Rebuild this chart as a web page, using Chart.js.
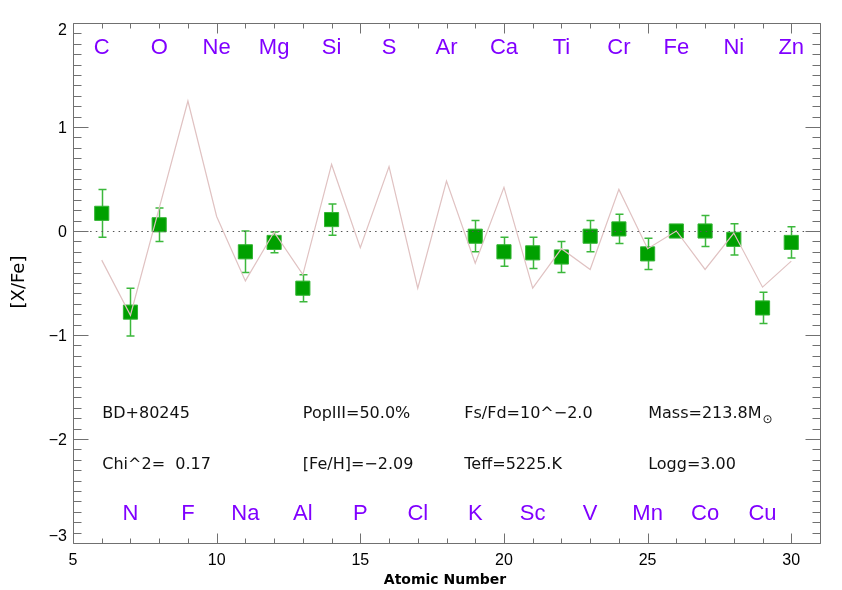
<!DOCTYPE html>
<html>
<head>
<meta charset="utf-8">
<script src="https://cdn.jsdelivr.net/npm/chart.js@4.4.0/dist/chart.umd.min.js"></script>
<style>
  html, body { margin: 0; padding: 0; background: #fff; }
  #wrap { width: 842px; height: 590px; }
</style>
</head>
<body>
<div id="wrap"><canvas id="abundChart" width="842" height="590"></canvas></div>
<script>
// [X/Fe] abundance pattern vs atomic number: observed points and model yield line.
const modelZ = [6, 7, 8, 9, 10, 11, 12, 13, 14, 15, 16, 17, 18, 19, 20, 21, 22, 23, 24, 25, 26, 27, 28, 29, 30];
const modelXFe = [-0.28, -0.81, 0.22, 1.25, 0.14, -0.48, -0.01, -0.42, 0.64, -0.16, 0.62, -0.55, 0.48, -0.31, 0.42, -0.55, -0.17, -0.37, 0.40, -0.17, 0.00, -0.37, -0.02, -0.54, -0.29];

const obsZ = [6, 7, 8, 11, 12, 13, 14, 19, 20, 21, 22, 23, 24, 25, 26, 27, 28, 29, 30];
const obsXFe = [0.17, -0.78, 0.06, -0.20, -0.11, -0.55, 0.11, -0.05, -0.20, -0.21, -0.25, -0.05, 0.02, -0.22, 0.00, 0.00, -0.08, -0.74, -0.11];
const obsErr = [0.23, 0.23, 0.16, 0.20, 0.10, 0.13, 0.15, 0.15, 0.14, 0.15, 0.15, 0.15, 0.14, 0.15, 0.00, 0.15, 0.15, 0.15, 0.15];

const topElements = ['C', 'O', 'Ne', 'Mg', 'Si', 'S', 'Ar', 'Ca', 'Ti', 'Cr', 'Fe', 'Ni', 'Zn'];
const topElementZ = [6, 8, 10, 12, 14, 16, 18, 20, 22, 24, 26, 28, 30];
const bottomElements = ['N', 'F', 'Na', 'Al', 'P', 'Cl', 'K', 'Sc', 'V', 'Mn', 'Co', 'Cu'];
const bottomElementZ = [7, 9, 11, 13, 15, 17, 19, 21, 23, 25, 27, 29];

const xTickValues = [5, 10, 15, 20, 25, 30];
const yTickValues = [2, 1, 0, -1, -2, -3];

const infoRow1 = ['BD+80245', 'PopIII=50.0%', 'Fs/Fd=10^\u22122.0', 'Mass=213.8M'];
const infoRow2 = ['Chi^2=  0.17', '[Fe/H]=\u22122.09', 'Teff=5225.K', 'Logg=3.00'];

// text anchor positions in data units
const infoColumnZ = [6.02, 13.0, 18.62, 25.02];
const infoRowY = [-1.755, -2.245];
const topLabelY = 1.765;
const bottomLabelY = -2.72;

const AXIS_COLOR = '#707070';
const LABEL_COLOR = '#8000ff';

function fmtTick(v) {
    return v < 0 ? '\u2212' + Math.abs(v) : String(v);
}

const errorBarPlugin = {
    id: 'errorBars',
    beforeDatasetsDraw(chart) {
        const { ctx, scales: { x, y } } = chart;
        ctx.save();
        ctx.strokeStyle = '#3cb83c';
        ctx.lineWidth = 1.5;
        obsZ.forEach((z, i) => {
            const err = obsErr[i];
            if (!err) {
                return;
            }
            const px = Math.round(x.getPixelForValue(z)) + 0.5;
            const top = y.getPixelForValue(obsXFe[i] + err);
            const bottom = y.getPixelForValue(obsXFe[i] - err);
            ctx.beginPath();
            ctx.moveTo(px, top);
            ctx.lineTo(px, bottom);
            ctx.moveTo(px - 4, top);
            ctx.lineTo(px + 4, top);
            ctx.moveTo(px - 4, bottom);
            ctx.lineTo(px + 4, bottom);
            ctx.stroke();
        });
        ctx.restore();
    },
};

const framePlugin = {
    id: 'idlFrame',
    afterDatasetsDraw(chart) {
        const { ctx, chartArea: area, scales: { x, y } } = chart;
        ctx.save();

        // dotted zero line
        const y0 = Math.round(y.getPixelForValue(0)) + 0.5;
        ctx.strokeStyle = '#555';
        ctx.lineWidth = 1;
        ctx.setLineDash([1.5, 4.2]);
        ctx.beginPath();
        ctx.moveTo(area.left, y0);
        ctx.lineTo(area.right, y0);
        ctx.stroke();
        ctx.setLineDash([]);

        // box
        const L = Math.round(area.left) + 0.5;
        const R = Math.round(area.right) + 0.5;
        const T = Math.round(area.top) + 0.5;
        const B = Math.round(area.bottom) + 0.5;
        ctx.strokeStyle = AXIS_COLOR;
        ctx.beginPath();
        ctx.rect(L, T, R - L, B - T);
        ctx.stroke();

        // inward ticks, x: minor every 1, major every 5
        ctx.beginPath();
        for (let v = 5; v <= 31; v++) {
            const px = Math.round(x.getPixelForValue(v)) + 0.5;
            const len = v % 5 === 0 ? 10 : 5;
            ctx.moveTo(px, B);
            ctx.lineTo(px, B - len);
            ctx.moveTo(px, T);
            ctx.lineTo(px, T + len);
        }
        // y: minor every 0.1, major every 1
        for (let k = -30; k <= 20; k++) {
            const py = Math.round(y.getPixelForValue(k / 10)) + 0.5;
            const len = k % 10 === 0 ? 15 : 8;
            ctx.moveTo(L, py);
            ctx.lineTo(L + len, py);
            ctx.moveTo(R, py);
            ctx.lineTo(R - len, py);
        }
        ctx.stroke();

        // tick labels
        ctx.fillStyle = '#000';
        ctx.font = '16px "Liberation Sans", Arial, sans-serif';
        ctx.textAlign = 'center';
        ctx.textBaseline = 'middle';
        xTickValues.forEach((v) => {
            ctx.fillText(fmtTick(v), x.getPixelForValue(v), area.bottom + 18);
        });
        ctx.textAlign = 'right';
        yTickValues.forEach((v) => {
            let py = y.getPixelForValue(v) + 2;
            py = Math.min(Math.max(py, area.top + 8), area.bottom - 6);
            ctx.fillText(fmtTick(v), area.left - 6, py);
        });

        // axis titles
        ctx.font = 'bold 14px "DejaVu Sans", sans-serif';
        ctx.textAlign = 'center';
        ctx.fillText('Atomic Number', 445, 580);
        ctx.save();
        ctx.translate(19, 282);
        ctx.rotate(-Math.PI / 2);
        ctx.font = '18px "DejaVu Sans", sans-serif';
        ctx.fillText('[X/Fe]', 0, 0);
        ctx.restore();

        // element labels
        ctx.fillStyle = LABEL_COLOR;
        ctx.font = '22px "Liberation Sans", Arial, sans-serif';
        ctx.textAlign = 'center';
        topElements.forEach((name, i) => {
            ctx.fillText(name, x.getPixelForValue(topElementZ[i]), y.getPixelForValue(topLabelY));
        });
        bottomElements.forEach((name, i) => {
            ctx.fillText(name, x.getPixelForValue(bottomElementZ[i]), y.getPixelForValue(bottomLabelY));
        });

        // info block
        ctx.fillStyle = '#111';
        ctx.font = '16px "DejaVu Sans", sans-serif';
        ctx.textAlign = 'left';
        [infoRow1, infoRow2].forEach((row, r) => {
            row.forEach((text, c) => {
                const px = x.getPixelForValue(infoColumnZ[c]);
                const py = y.getPixelForValue(infoRowY[r]);
                ctx.fillText(text, px, py);
                if (r === 0 && c === 3) {
                    const w = ctx.measureText(text).width;
                    ctx.font = '12px "DejaVu Sans", sans-serif';
                    ctx.fillText('\u2299', px + w + 1, py + 6);
                    ctx.font = '16px "DejaVu Sans", sans-serif';
                }
            });
        });

        ctx.restore();
    },
};

document.addEventListener('DOMContentLoaded', () => {
    const ctx = document.getElementById('abundChart');
    new Chart(ctx, {
        type: 'scatter',
        data: {
            datasets: [
                {
                    type: 'line',
                    label: 'Model',
                    data: modelZ.map((z, i) => ({ x: z, y: modelXFe[i] })),
                    borderColor: '#e0c2c2',
                    borderWidth: 1.2,
                    pointRadius: 0,
                    tension: 0,
                    fill: false,
                },
                {
                    type: 'scatter',
                    label: 'Observed',
                    data: obsZ.map((z, i) => ({ x: z, y: obsXFe[i] })),
                    pointStyle: 'rect',
                    pointRadius: 10,
                    backgroundColor: '#00a000',
                    borderColor: '#33b533',
                    borderWidth: 1,
                },
            ],
        },
        options: {
            responsive: false,
            animation: false,
            layout: { padding: { left: 73, top: 23, right: 22, bottom: 47 } },
            plugins: { legend: { display: false }, tooltip: { enabled: false } },
            scales: {
                x: { type: 'linear', min: 5, max: 31, display: false },
                y: { type: 'linear', min: -3, max: 2, display: false },
            },
        },
        plugins: [errorBarPlugin, framePlugin],
    });
});
</script>
</body>
</html>
